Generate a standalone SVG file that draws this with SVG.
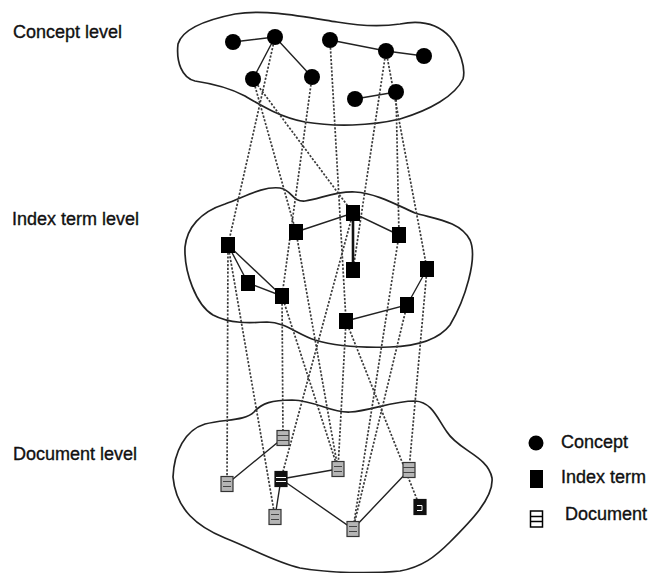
<svg xmlns="http://www.w3.org/2000/svg" width="651" height="573" viewBox="0 0 651 573">
  <defs>
    <style>
      .label { font-family: "Liberation Sans", Arial, sans-serif; font-size: 18px; fill: #111; stroke: #111; stroke-width: 0.35; }
      .blob { fill: none; stroke: #222; stroke-width: 1.7; }
      .edge { stroke: #222; stroke-width: 1.4; fill: none; }
      .edge-bold { stroke: #111; stroke-width: 2.6; fill: none; }
      .link { stroke: #3a3a3a; stroke-width: 1.7; stroke-dasharray: 2.2 1.6; fill: none; }
      .concept { fill: #000; }
      .term { fill: #000; }
      .doc rect { fill: #b5b5b5; stroke: #333; stroke-width: 1.2; }
      .doc path { stroke: #444; stroke-width: 1; fill: none; }
      .doc.dark rect { fill: #111; stroke: #111; }
      .doc.dark path { stroke: #fff; }
      .doc.plain rect { fill: #fff; stroke: #000; stroke-width: 1.5; }
      .doc.plain path { stroke: #000; stroke-width: 1.5; }
    </style>
  </defs>
  <rect width="651" height="573" fill="#fff"/>

  <!-- level labels -->
  <text class="label" x="13" y="38">Concept level</text>
  <text class="label" x="12" y="225">Index term level</text>
  <text class="label" x="13" y="460">Document level</text>

  <!-- region outlines -->
  <path class="blob" d="M178,44 C182,30 205,20 235,14 C265,9 300,16 337,22 C360,26 380,27 400,24 C420,20 438,24 450,37 C460,50 466,68 463,79 C455,96 430,110 400,119 C370,126 335,127 305,122 C280,117 262,106 245,96 C230,88 215,84 195,81 C182,78 176,62 178,44 Z"/>
  <path class="blob" d="M185,247 C187,228 200,212 225,204 C245,197 262,186 280,188 C292,190 292,202 305,201 C320,199 335,191 355,192 C375,193 395,204 415,213 C435,219 460,221 470,240 C478,258 465,300 450,325 C440,338 420,346 390,347 C360,348 335,346 315,340 C297,334 285,322 267,322 C250,323 230,324 213,315 C196,305 184,272 185,247 Z"/>
  <path class="blob" d="M173,477 C174,452 185,430 205,424 C225,419 245,421 254,412 C262,403 272,400 292,400 C318,401 330,413 350,412 C370,411 392,401 415,401 C432,402 437,418 447,432 C458,450 488,456 492,478 C494,498 470,522 450,542 C435,557 422,567 400,571 C370,574 330,573 300,568 C275,562 255,550 225,538 C198,527 176,510 173,477 Z"/>

  <!-- connectors -->
  <g id="connectors">
    <g id="term-links">
      <path class="link" d="M275,37 L228,245"/>
      <path class="link" d="M253,79 L296,232"/>
      <path class="link" d="M253,79 L353,213"/>
      <path class="link" d="M312,77 L282,296"/>
      <path class="link" d="M330,40 L346,321"/>
      <path class="link" d="M386,51 L353,270"/>
      <path class="link" d="M386,51 L427,269"/>
      <path class="link" d="M396,92 L399,235"/>
    </g>
    <g id="doc-links">
      <path class="link" d="M228,245 L227,484"/>
      <path class="link" d="M228,245 L275,517"/>
      <path class="link" d="M282,296 L283,438"/>
      <path class="link" d="M353,213 L281,479"/>
      <path class="link" d="M282,296 L338,469"/>
      <path class="link" d="M296,232 L338,469"/>
      <path class="link" d="M346,321 L338,469"/>
      <path class="link" d="M346,321 L420,507"/>
      <path class="link" d="M399,235 L353,529"/>
      <path class="link" d="M407,305 L353,529"/>
      <path class="link" d="M427,269 L409,470"/>
    </g>
    <g id="concept-edges">
      <path class="edge" d="M233,42 L275,37 M275,37 L253,79 M275,37 L312,77 M330,40 L386,51 L424,56 M355,99 L396,92"/>
    </g>
    <g id="term-edges">
      <path class="edge" d="M228,245 L248,283 L282,296 L228,245 M296,232 L353,213 L399,235 M346,321 L407,305 L427,269"/>
      <path class="edge-bold" d="M353,213 L353,270"/>
    </g>
    <g id="doc-edges">
      <path class="edge" d="M227,484 L283,438 M281,479 L338,469 M281,479 L275,517 M281,479 L353,529 L409,470"/>
    </g>
  </g>

  <!-- concepts -->
  <g id="c1"><circle class="concept" cx="233" cy="42" r="8"/></g>
  <g id="c2"><circle class="concept" cx="275" cy="37" r="8"/></g>
  <g id="c3"><circle class="concept" cx="330" cy="40" r="8"/></g>
  <g id="c4"><circle class="concept" cx="386" cy="51" r="8"/></g>
  <g id="c5"><circle class="concept" cx="424" cy="56" r="8"/></g>
  <g id="c6"><circle class="concept" cx="253" cy="79" r="8"/></g>
  <g id="c7"><circle class="concept" cx="312" cy="77" r="8"/></g>
  <g id="c8"><circle class="concept" cx="355" cy="99" r="8"/></g>
  <g id="c9"><circle class="concept" cx="396" cy="92" r="8"/></g>

  <!-- index terms -->
  <g id="t1"><rect class="term" x="221" y="237" width="14" height="16"/></g>
  <g id="t2"><rect class="term" x="289" y="224" width="14" height="16"/></g>
  <g id="t3"><rect class="term" x="346" y="205" width="14" height="16"/></g>
  <g id="t4"><rect class="term" x="392" y="227" width="14" height="16"/></g>
  <g id="t5"><rect class="term" x="241" y="275" width="14" height="16"/></g>
  <g id="t6"><rect class="term" x="275" y="288" width="14" height="16"/></g>
  <g id="t7"><rect class="term" x="346" y="262" width="14" height="16"/></g>
  <g id="t8"><rect class="term" x="420" y="261" width="14" height="16"/></g>
  <g id="t9"><rect class="term" x="400" y="297" width="14" height="16"/></g>
  <g id="t10"><rect class="term" x="339" y="313" width="14" height="16"/></g>

  <!-- documents -->
  <g id="d1" class="doc" transform="translate(277,430.5)"><rect width="12" height="15"/><path d="M0,5 H12 M0,10 H12"/></g>
  <g id="d2" class="doc" transform="translate(221,476.5)"><rect width="12" height="15"/><path d="M2,5 H10 M2,10 H10"/></g>
  <g id="d3" class="doc dark" transform="translate(275,471.5)"><rect width="12" height="15"/><path d="M1,6 H11 M1,10 H11"/></g>
  <g id="d4" class="doc" transform="translate(332,461.5)"><rect width="12" height="15"/><path d="M2,5 H10 M2,10 H10"/></g>
  <g id="d5" class="doc" transform="translate(403,462.5)"><rect width="12" height="15"/><path d="M0,5 H12 M0,10 H12"/></g>
  <g id="d6" class="doc" transform="translate(269,509.5)"><rect width="12" height="15"/><path d="M2,5 H10 M2,10 H10"/></g>
  <g id="d7" class="doc" transform="translate(347,521.5)"><rect width="12" height="15"/><path d="M2,5 H10 M2,10 H10"/></g>
  <g id="d8" class="doc dark" transform="translate(414,499.5)"><rect width="12" height="15"/><path d="M3,6 H8 V11 H3"/></g>

  <!-- legend -->
  <g id="legend">
    <circle class="concept" cx="536" cy="443" r="7.5"/>
    <text class="label" x="561" y="448">Concept</text>
    <rect class="term" x="530" y="470" width="13" height="18"/>
    <text class="label" x="561" y="483">Index term</text>
    <g class="doc plain" transform="translate(530.5,511)"><rect width="12" height="16"/><path d="M0,5.5 H12 M0,10.5 H12"/></g>
    <text class="label" x="565" y="520">Document</text>
  </g>
</svg>
